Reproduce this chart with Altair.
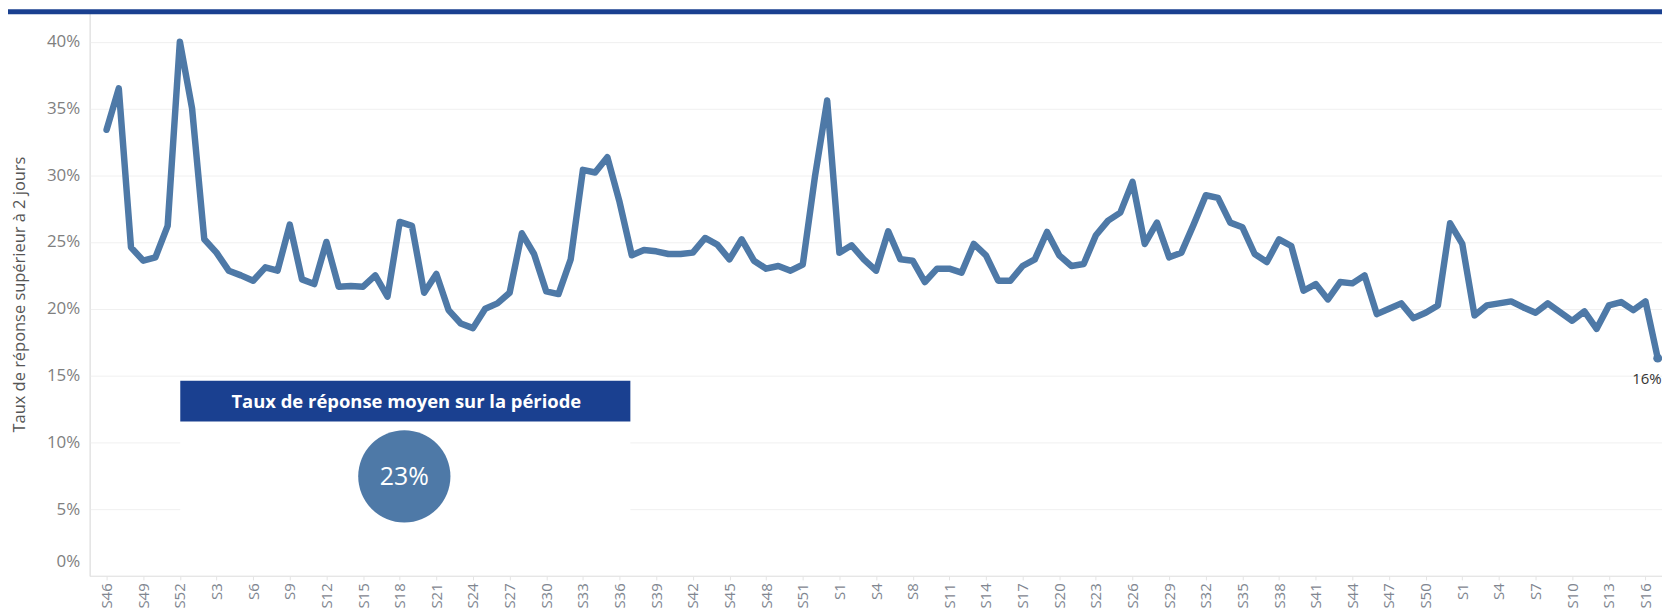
import altair as alt
import pandas as pd

# ---- data ----
years = [2019] * 7 + [2020] * 53 + [2021] * 51 + [2022] * 17
weeks = (list(range(46, 53)) + list(range(1, 54))
         + [w for w in range(1, 53) if w != 7] + list(range(1, 18)))
rates_pct = [
    33.4, 36.5, 24.6, 23.6, 23.85, 26.2, 40.0,
    35.0, 25.2, 24.2, 22.85, 22.5, 22.1, 23.1, 22.85, 26.3, 22.2,
    21.85, 25.0, 21.65, 21.7, 21.65, 22.5, 20.9, 26.5, 26.2, 21.2,
    22.6, 19.9, 18.9, 18.55, 20.0, 20.4, 21.2, 25.65, 24.1, 21.3,
    21.1, 23.7, 30.4, 30.2, 31.35, 28.0, 24.0, 24.4, 24.3, 24.1,
    24.1, 24.2, 25.3, 24.8, 23.7, 25.2, 23.6, 23.0, 23.2, 22.85,
    23.3, 29.9, 35.6,
    24.2, 24.75, 23.7, 22.85, 25.8, 23.7, 23.6, 22.0, 23.0, 23.0,
    22.7, 24.85, 24.0, 22.1, 22.1, 23.2, 23.7, 25.75, 24.0, 23.2,
    23.35, 25.5, 26.6, 27.2, 29.5, 24.85, 26.45, 23.85, 24.2, 26.3,
    28.5, 28.3, 26.45, 26.1, 24.1, 23.5, 25.2, 24.7, 21.35, 21.85,
    20.7, 22.0, 21.9, 22.5, 19.6, 20.0, 20.4, 19.3, 19.7, 20.25,
    26.4,
    24.85, 19.5, 20.25, 20.4, 20.55, 20.1, 19.7, 20.4, 19.75, 19.1,
    19.8, 18.5, 20.25, 20.5, 19.9, 20.55, 16.3,
]
avg_rate = [0.23]
avg_title = ["Taux de réponse moyen sur la période"]
y_title = "Taux de réponse supérieur à 2 jours"
y_ticks = [0, 0.05, 0.10, 0.15, 0.20, 0.25, 0.30, 0.35, 0.40]

keys = [f"{i:03d}-S{w}" for i, w in enumerate(weeks)]
df = pd.DataFrame({"key": keys, "year": years, "week": weeks,
                   "rate": [r / 100 for r in rates_pct]})
last_df = df.tail(1)
label_keys = keys[::3]
avg_df = pd.DataFrame({"avg": avg_rate, "title": avg_title})
one = pd.DataFrame({"a": [0]})

W, H = 1579, 566
DARK = "#1a4090"
LINE = "#4e79a7"
FONT = "Open Sans"

x_enc = alt.X(
    "key:O", sort=keys,
    scale=alt.Scale(type="point", padding=0.868, align=0.798),
    axis=alt.Axis(values=label_keys, labelExpr="slice(datum.value, 4)",
                  labelAngle=270, labelFontSize=15, labelColor="#7f8690",
                  labelFont=FONT, labelPadding=3, labelOverlap=False,
                  domainColor="#e4e4e4", tickColor="#e4e4e4", tickSize=4,
                  grid=False, title=None),
)
y_enc = alt.Y(
    "rate:Q",
    scale=alt.Scale(domain=[0, 0.422], nice=False, zero=True),
    axis=alt.Axis(values=y_ticks, format=".0%", title=y_title,
                  grid=True, gridColor="#f0f0f0", domainColor="#e4e4e4",
                  ticks=False, labelPadding=10, labelFontSize=17,
                  labelColor="#7f7f7f", labelFont=FONT, labelFlush=True,
                  labelFlushOffset=-5,
                  titleFont=FONT, titleFontSize=16.5, titleColor="#555555",
                  titleFontWeight="normal", titleX=-70, titleY=H / 2,
                  titleBaseline="middle"),
)

top_bar = alt.Chart(one).mark_rect(color=DARK).encode(
    x=alt.value(-82), x2=alt.value(W + 5), y=alt.value(-3), y2=alt.value(2))

line = alt.Chart(df).mark_line(color=LINE, strokeWidth=6.5,
                               strokeJoin="round", strokeCap="round").encode(
    x=x_enc, y=y_enc)

last_dot = alt.Chart(last_df).mark_circle(color=LINE, opacity=1, size=80).encode(
    x=alt.X("key:O", sort=keys), y="rate:Q")

last_label = alt.Chart(last_df).mark_text(
    align="right", dx=4, dy=21, fontSize=15, color="#333333", font=FONT
).encode(x=alt.X("key:O", sort=keys), y="rate:Q",
         text=alt.Text("rate:Q", format=".0%"))

box = alt.Chart(avg_df).mark_rect(color="white").encode(
    x=alt.value(91), x2=alt.value(543), y=alt.value(370), y2=alt.value(518))
header = alt.Chart(avg_df).mark_rect(color=DARK).encode(
    x=alt.value(91), x2=alt.value(543), y=alt.value(370), y2=alt.value(411))
header_text = alt.Chart(avg_df).mark_text(
    color="white", fontWeight="bold", fontSize=18.5, font=FONT,
    align="center", baseline="middle"
).encode(x=alt.value(318), y=alt.value(391), text="title:N")
bubble = alt.Chart(avg_df).mark_circle(color=LINE, opacity=1, size=8580).encode(
    x=alt.value(316), y=alt.value(466))
bubble_text = alt.Chart(avg_df).mark_text(
    color="white", fontSize=25, font=FONT, align="center", baseline="middle"
).encode(x=alt.value(316), y=alt.value(467),
         text=alt.Text("avg:Q", format=".0%"))

chart = alt.layer(
    top_bar, line, last_dot, last_label, box, header, header_text,
    bubble, bubble_text
).properties(
    width=W, height=H,
    autosize=alt.AutoSizeParams(type="none"),
    padding={"left": 82, "top": 3, "right": 0, "bottom": 31},
).configure_view(stroke=None).configure(background="white")

chart.save("out.html", embed_options={"renderer": "svg", "actions": False})
